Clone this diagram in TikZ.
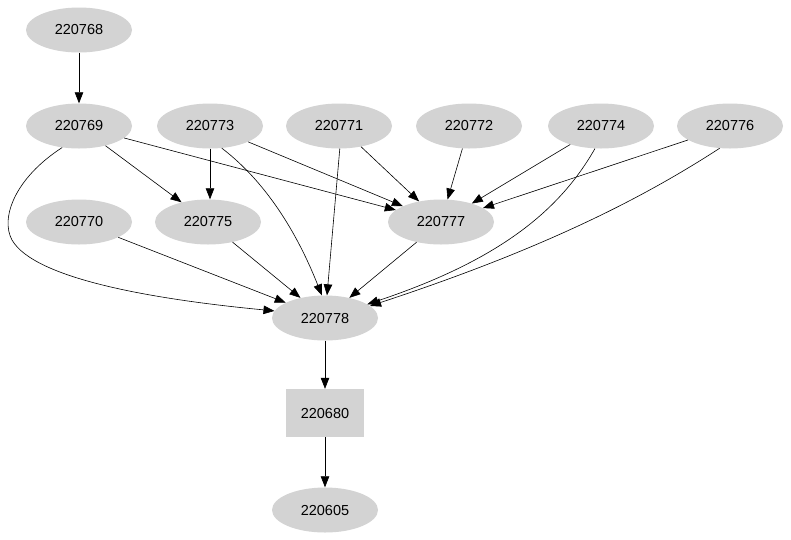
\documentclass[tikz,border=0pt]{standalone}
\usepackage{fontspec}
\setmainfont{Liberation Sans}
\usetikzlibrary{arrows.meta,shapes.geometric}
\definecolor{nodegray}{HTML}{D3D3D3}
\tikzset{
  edge/.style={-{Triangle[length=11pt,width=8.5pt]},line width=0.6pt,draw=black},
  job/.style={ellipse,fill=nodegray,draw=none,minimum width=106pt,minimum height=45pt,
    inner sep=0pt,font=\fontsize{14.5}{16}\selectfont},
  box/.style={rectangle,fill=nodegray,draw=none,minimum width=78pt,minimum height=48pt,
    inner sep=0pt,font=\fontsize{14.5}{16}\selectfont}
}
\begin{document}
\begin{tikzpicture}[x=1pt,y=-1pt]
  \useasboundingbox (0,0) rectangle (791,539);
  % top rows
  \node[job] (n768) at (79,30) {220768};
  \node[job] (n769) at (79,126) {220769};
  \node[job] (n773) at (210,126) {220773};
  \node[job] (n771) at (339,126) {220771};
  \node[job] (n772) at (469,126) {220772};
  \node[job] (n774) at (601,126) {220774};
  \node[job] (n776) at (730,126) {220776};
  % middle row
  \node[job] (n770) at (79,222) {220770};
  \node[job] (n775) at (208,222) {220775};
  \node[job] (n777) at (441,222) {220777};
  % bottom chain
  \node[job] (n778) at (325,318) {220778};
  \node[box] (n680) at (325,413) {220680};
  \node[job] (n605) at (325,510) {220605};

  \draw[edge] (n768) -- (n769);
  \draw[edge] (n769) -- (n775);
  \draw[edge] (n769) -- (n777);
  \draw[edge] (n769.-128) .. controls (15,178) and (0,218) .. (12,240)
    .. controls (35,280) and (160,300) .. (n778.172);
  \draw[edge] (n773.south) -- (n775.north -| n773.south);
  \draw[edge] (n773) -- (n777);
  \draw[edge] (n773.-62) .. controls (270,185) and (300,240) .. (n778.98);
  \draw[edge] (n771) -- (n777);
  \draw[edge] (n771.-88) -- (n778.85);
  \draw[edge] (n772) -- (n777);
  \draw[edge] (n774) -- (n777);
  \draw[edge] (n774.-105) .. controls (560,210) and (500,260) .. (n778.18);
  \draw[edge] (n776) -- (n777);
  \draw[edge] (n776.-115) .. controls (640,200) and (540,250) .. (n778.15);
  \draw[edge] (n770) -- (n778);
  \draw[edge] (n775) -- (n778);
  \draw[edge] (n777) -- (n778);
  \draw[edge] (n778) -- (n680);
  \draw[edge] (n680) -- (n605);
\end{tikzpicture}
\end{document}
